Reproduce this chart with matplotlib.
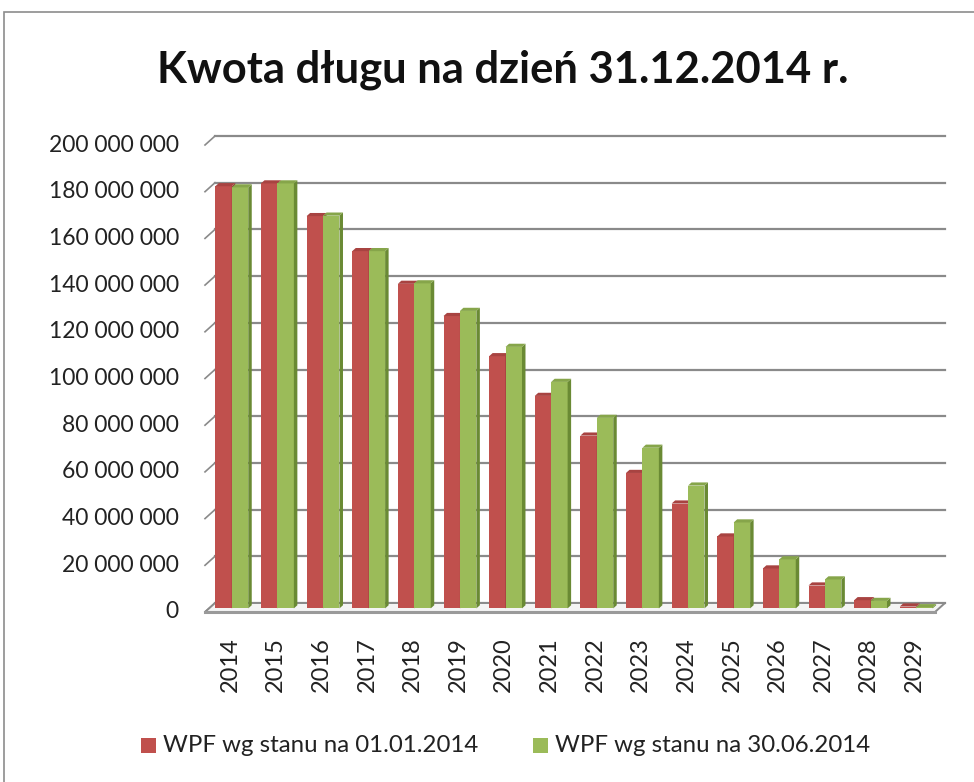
import matplotlib
matplotlib.use("Agg")
import matplotlib.pyplot as plt
from matplotlib.patches import Polygon, Rectangle

# Debt schedule, millions PLN
years = ["2014", "2015", "2016", "2017", "2018", "2019", "2020", "2021",
         "2022", "2023", "2024", "2025", "2026", "2027", "2028", "2029"]
wpf_jan = [180.8, 182.0, 168.0, 153.0, 139.0, 125.2, 108.0, 91.0,
           74.0, 58.0, 44.9, 30.8, 17.1, 9.8, 3.5, 0.8]
wpf_jun = [180.3, 182.0, 168.2, 153.0, 139.2, 127.4, 112.0, 97.0,
           81.6, 68.8, 52.6, 36.8, 21.0, 12.4, 3.2, 0.5]
series_names = ["WPF wg stanu na 01.01.2014", "WPF wg stanu na 30.06.2014"]
y_ticks = [0, 20, 40, 60, 80, 100, 120, 140, 160, 180, 200]

FONT = ["Lato", "DejaVu Sans"]
plt.rcParams["font.family"] = FONT

W, H = 974, 782
fig = plt.figure(figsize=(W / 100, H / 100), dpi=100)

# outer chart frame (only top and left edges fall inside the image)
fig.patches.append(Rectangle((4 / W, -0.2), 1.2, 1.2 - 12 / H, transform=fig.transFigure,
                             fill=False, edgecolor="#8c8c8c", lw=1.2))

left, right, top, bottom = 205, 935, 145, 612
ax = fig.add_axes([left / W, 1 - bottom / H, (right - left) / W, (bottom - top) / H])
n = len(years)
ax.set_xlim(-0.5, n - 0.5)
ax.set_ylim(0, 200)
ax.axis("off")

px_x = (right - left) / n          # pixels per category
px_y = (bottom - top) / 200        # pixels per million
DX, DY = 10 / px_x, 9 / px_y       # depth of the 3-D box in data units

grid_c = "#8a8a8a"
# back wall gridlines + side wall diagonals
for v in y_ticks:
    ax.plot([-0.5 + DX, n - 0.5 + DX], [v + DY, v + DY], color=grid_c, lw=1.6,
            clip_on=False, zorder=1)
    ax.plot([-0.5, -0.5 + DX], [v, v + DY], color=grid_c, lw=1.2,
            clip_on=False, zorder=1)
    ax.text(-0.5 - 26 / px_x, v, f"{v * 1_000_000:,}".replace(",", " "),
            ha="right", va="center", fontsize=16.5, color="#222222")

# floor
floor = Polygon([(-0.5, 0), (n - 0.5, 0), (n - 0.5 + DX, DY), (-0.5 + DX, DY)],
                closed=True, facecolor="#f4f4f4", edgecolor=grid_c, lw=1.4,
                clip_on=False, zorder=2)
ax.add_patch(floor)
ax.plot([-0.5, n - 0.5], [0, 0], color="#9a9a9a", lw=2.2, clip_on=False, zorder=2)

# bars as 3-D columns: front face + side + top
w = 0.36
off_x, off_y = 0.4 * DX, 0.4 * DY
dd_x, dd_y = 0.35 * DX, 0.35 * DY
styles = [("#C0504D", "#8E3836", "#A84341"), ("#9BBB59", "#6A8A34", "#86A54A")]

for i in range(n):
    for s, vals in enumerate([wpf_jan, wpf_jun]):
        front, side, topc = styles[s]
        z = 3 + i * 0.01 + s * 0.001
        x0 = i - w + s * w + off_x + 0.5 * w
        bar = ax.bar(x0, vals[i], width=w, bottom=off_y, color=front,
                     linewidth=0, zorder=z, clip_on=False)[0]
        xl = bar.get_x()
        xr = xl + bar.get_width()
        yb = bar.get_y()
        yt = yb + bar.get_height()
        ax.add_patch(Polygon([(xr, yb), (xr + dd_x, yb + dd_y), (xr + dd_x, yt + dd_y), (xr, yt)],
                             closed=True, facecolor=side, lw=0, clip_on=False, zorder=z))
        ax.add_patch(Polygon([(xl, yt), (xl + dd_x, yt + dd_y), (xr + dd_x, yt + dd_y), (xr, yt)],
                             closed=True, facecolor=topc, lw=0, clip_on=False, zorder=z))

# category labels
for i, y in enumerate(years):
    ax.text(i + 0.05, -25 / px_y, y, rotation=90, ha="center", va="top",
            fontsize=17, color="#222222")

fig.text(503 / W, 1 - 70 / H, "Kwota długu na dzień 31.12.2014 r.", ha="center", va="center",
         fontsize=31.3, fontweight="bold", color="#111111")

# legend
for k, (name, st) in enumerate(zip(series_names, styles)):
    lx = [141, 533][k]
    fig.patches.append(Rectangle((lx / W, 1 - 753 / H), 15 / W, 15 / H,
                                 transform=fig.transFigure, facecolor=st[0], lw=0))
    fig.text((lx + 22) / W, 1 - 745 / H, name, ha="left", va="center",
             fontsize=17.3, color="#222222")

fig.savefig("out.png", dpi=100)
